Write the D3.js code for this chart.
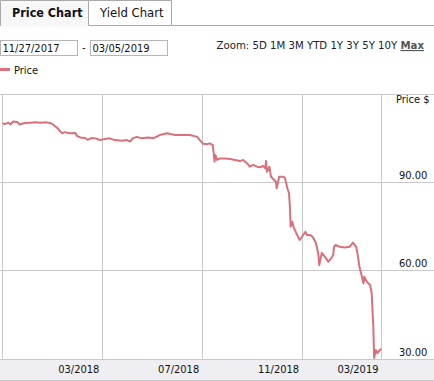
<!DOCTYPE html>
<html>
<head>
<meta charset="utf-8">
<script src="https://cdn.jsdelivr.net/npm/d3@7"></script>
<style>
  body { margin: 0; background: #fff; }
  svg { display: block; font-family: "DejaVu Sans Condensed", "DejaVu Sans", sans-serif; }
</style>
</head>
<body>
<div id="chart"></div>
<script>
// price series
const dates = [
  "2017-11-27","2017-11-30","2017-12-04","2017-12-07","2017-12-10","2017-12-15","2017-12-18","2017-12-24",
  "2017-12-31","2018-01-06","2018-01-12","2018-01-20","2018-01-24","2018-01-28","2018-02-02","2018-02-05",
  "2018-02-08","2018-02-11","2018-02-17","2018-02-24","2018-02-26","2018-03-02","2018-03-08","2018-03-11",
  "2018-03-16","2018-03-22","2018-03-26","2018-04-01","2018-04-07","2018-04-13","2018-04-22","2018-04-28",
  "2018-05-02","2018-05-05","2018-05-10","2018-05-16","2018-05-24","2018-05-30","2018-06-07","2018-06-16",
  "2018-06-26","2018-07-05","2018-07-14","2018-07-23","2018-07-26","2018-07-30","2018-08-04","2018-08-07",
  "2018-08-11","2018-08-13","2018-08-14","2018-08-16","2018-08-20","2018-08-26","2018-09-01","2018-09-07",
  "2018-09-13","2018-09-17","2018-09-22","2018-09-25","2018-09-29","2018-10-04","2018-10-08","2018-10-11",
  "2018-10-14","2018-10-15","2018-10-16","2018-10-19","2018-10-21","2018-10-23","2018-10-27","2018-10-28",
  "2018-10-31","2018-11-05","2018-11-07","2018-11-10","2018-11-12","2018-11-13","2018-11-14","2018-11-16",
  "2018-11-18","2018-11-22","2018-11-25","2018-11-28","2018-12-02","2018-12-04","2018-12-08","2018-12-11",
  "2018-12-15","2018-12-18","2018-12-19","2018-12-22","2018-12-26","2018-12-30","2019-01-02","2019-01-05",
  "2019-01-06","2019-01-08","2019-01-13","2019-01-19","2019-01-25","2019-01-29","2019-02-02","2019-02-04",
  "2019-02-06","2019-02-08","2019-02-11","2019-02-12","2019-02-15","2019-02-19","2019-02-21","2019-02-23",
  "2019-02-24","2019-02-26","2019-02-28","2019-03-03","2019-03-05"
];
const prices = [
  110.1,109.8,110.3,109.7,110.7,110.5,109.7,110.2,
  110.3,110.4,110.3,110.4,110.2,109.6,108.5,107.5,
  106.7,107.1,106.7,106.8,105.8,105.3,105.1,104.5,
  105.1,104.9,104.4,104.8,105.0,104.4,104.2,104.4,
  103.9,105.0,105.5,105.0,105.3,105.0,106.1,106.7,
  106.1,106.1,106.1,105.5,104.4,103.2,103.0,103.3,
  102.7,97.1,99.4,97.7,98.2,98.2,98.0,97.7,
  97.3,97.7,96.5,95.4,96.0,95.4,95.2,95.7,
  94.9,97.3,93.7,95.4,92.0,91.5,90.3,88.1,
  92.0,92.0,91.7,88.1,86.4,82.4,75.1,76.8,
  74.7,72.3,70.6,71.7,73.4,72.3,72.3,71.6,
  69.5,65.5,62.1,66.2,64.9,63.3,64.2,65.5,
  68.3,68.9,68.3,68.1,68.3,69.7,68.3,65.5,
  61.6,59.4,55.9,58.2,56.5,55.4,52.6,41.3,
  30.7,33.4,32.3,33.4,33.7
];
const startDate = "2017-11-27";
const endDate = "2019-03-05";
const yTicks = [30, 60, 90];
const xTickDates = ["2018-03-29", "2018-07-29", "2018-11-28", "2019-03-05"];
const xTickLabels = ["03/2018", "07/2018", "11/2018", "03/2019"];
const zoomLinks = ["5D", "1M", "3M", "YTD", "1Y", "3Y", "5Y", "10Y"];

const W = 434, H = 381;
const plot = { left: 2.5, right: 381.5, top: 94, bottom: 360 };
const lineColor = "#d9707b";
const gridColor = "#c9c9c9";

const parse = d3.timeParse("%Y-%m-%d");
const data = dates.map((d, i) => ({ date: parse(d), price: prices[i] }));

const svg = d3.select("#chart").append("svg")
    .attr("width", W)
    .attr("height", H);

// tabs
svg.append("rect").attr("x", 0.5).attr("y", 0.5).attr("width", 88).attr("height", 26)
    .attr("fill", "#f7f7f7").attr("stroke", "none");
svg.append("path")
    .attr("d", "M0.5,26V0.5H88.5V25.5H171.5V0.5H88.5M171.5,25.5H434")
    .attr("fill", "none").attr("stroke", "#a9a9a9");
svg.append("text").attr("x", 12).attr("y", 17)
    .attr("font-size", 12.5).attr("font-weight", "bold").attr("fill", "#111")
    .text("Price Chart");
svg.append("text").attr("x", 100).attr("y", 17)
    .attr("font-size", 13).attr("fill", "#111")
    .text("Yield Chart");

// date inputs
[[0.5, "11/27/2017"], [90.5, "03/05/2019"]].forEach(([x, t]) => {
  svg.append("rect").attr("x", x).attr("y", 40.5).attr("width", 77).attr("height", 15)
      .attr("fill", "#fff").attr("stroke", "#b5b5b5");
  svg.append("text").attr("x", x + 2).attr("y", 52).attr("font-size", 11).attr("fill", "#111").text(t);
});
svg.append("text").attr("x", 82).attr("y", 51).attr("font-size", 11).attr("fill", "#111").text("-");

// zoom links
const zoomText = svg.append("text").attr("x", 424).attr("y", 49)
    .attr("text-anchor", "end").attr("font-size", 11.3).attr("fill", "#222");
zoomText.append("tspan").text("Zoom: " + zoomLinks.join(" ") + " ");
zoomText.append("tspan").attr("font-weight", "bold").attr("fill", "#555")
    .attr("text-decoration", "underline").text("Max");

// legend
svg.append("line").attr("x1", 0).attr("x2", 10).attr("y1", 69.5).attr("y2", 69.5)
    .attr("stroke", lineColor).attr("stroke-width", 3);
svg.append("text").attr("x", 14).attr("y", 74).attr("font-size", 11).attr("fill", "#111").text("Price");

// scales
const x = d3.scaleTime()
    .domain([parse(startDate), parse(endDate)])
    .range([plot.left, plot.right]);
const y = d3.scaleLinear()
    .domain([30, 120])
    .range([plot.bottom, plot.top]);

// x-axis band
svg.append("rect").attr("x", 0).attr("y", plot.bottom).attr("width", W).attr("height", 20)
    .attr("fill", "#efeff3");
svg.append("line").attr("x1", 0).attr("x2", W).attr("y1", 380.5).attr("y2", 380.5)
    .attr("stroke", gridColor);

// grid
const grid = svg.append("g").attr("stroke", gridColor).attr("stroke-width", 1);
grid.append("line").attr("x1", 0).attr("x2", W).attr("y1", plot.top + 0.5).attr("y2", plot.top + 0.5);
grid.selectAll(".hgrid").data(yTicks).join("line")
    .attr("x1", 0).attr("x2", W)
    .attr("y1", d => Math.round(y(d)) - 0.5).attr("y2", d => Math.round(y(d)) - 0.5);
grid.selectAll(".vgrid").data([startDate].concat(xTickDates)).join("line")
    .attr("x1", d => Math.floor(x(parse(d))) + 0.5).attr("x2", d => Math.floor(x(parse(d))) + 0.5)
    .attr("y1", plot.top).attr("y2", plot.bottom);

// y labels
svg.selectAll(".ylab").data(yTicks).join("text")
    .attr("x", 399).attr("y", d => y(d) - 4)
    .attr("font-size", 11).attr("fill", "#111")
    .text(d3.format(".2f"));
svg.append("text").attr("x", 396).attr("y", 103)
    .attr("font-size", 11).attr("fill", "#111").text("Price $");

// x labels
svg.selectAll(".xlab").data(xTickDates).join("text")
    .attr("x", (d, i) => x(parse(d)) - 3).attr("y", 373)
    .attr("text-anchor", "end").attr("font-size", 11).attr("fill", "#111")
    .text((d, i) => xTickLabels[i]);

// price line
const line = d3.line()
    .x(d => x(d.date))
    .y(d => y(d.price));
svg.append("path")
    .datum(data)
    .attr("d", line)
    .attr("fill", "none")
    .attr("stroke", lineColor)
    .attr("stroke-width", 2)
    .attr("stroke-linejoin", "round");
</script>
</body>
</html>
